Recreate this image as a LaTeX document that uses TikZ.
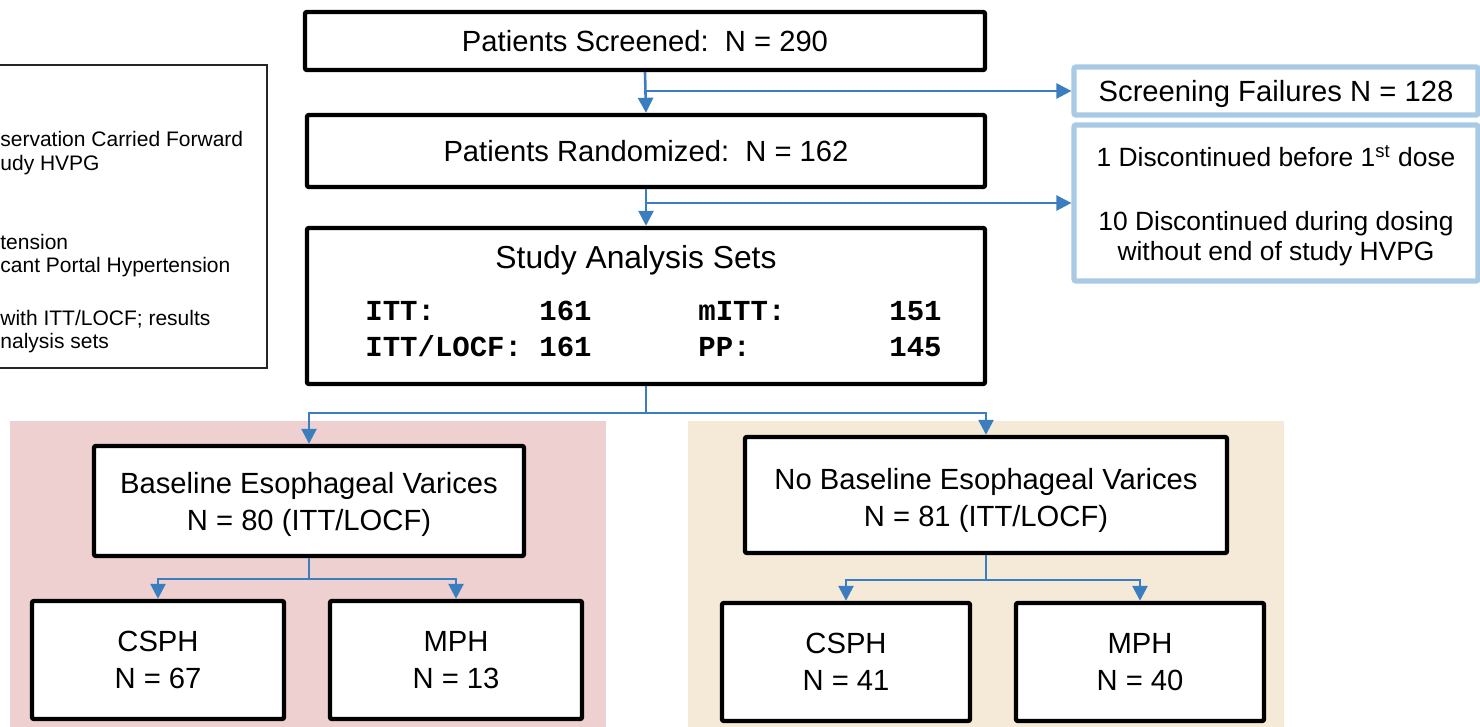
\documentclass[tikz,border=0pt]{standalone}
\usepackage{fontspec}
\setmainfont{Liberation Sans}
\newfontfamily\monobold{Liberation Mono}[BoldFont={* Bold}]
\usetikzlibrary{arrows.meta,positioning}
\definecolor{flowblue}{RGB}{59,126,192}
\definecolor{paleblue}{RGB}{168,202,228}
\definecolor{pinkbg}{RGB}{238,208,208}
\definecolor{tanbg}{RGB}{245,234,215}
\tikzset{
  blackbox/.style={draw=black, line width=2.2pt, fill=white, rounded corners=1pt,
    inner sep=0pt, align=center},
  bluebox/.style={draw=paleblue, line width=2.6pt, fill=white, rounded corners=1pt,
    inner sep=0pt, align=center},
  flow/.style={draw=flowblue, line width=1.3pt, -{Triangle[length=7.5pt,width=7.5pt]}},
  joint/.style={draw=flowblue, line width=1.3pt},
  legtext/.style={anchor=west, inner sep=0pt, font=\fontsize{10.5}{12}\selectfont},
  setlabel/.style={inner sep=0pt, font=\monobold\bfseries\fontsize{14.5}{17}\selectfont},
  bigtext/.style={font=\fontsize{14.6}{17.5}\selectfont},
  subtext/.style={font=\fontsize{14.6}{18.5}\selectfont},
}
\begin{document}
\begin{tikzpicture}[x=0.5pt,y=-0.5pt]
\useasboundingbox (0,0) rectangle (1480,727);
\clip (0,0) rectangle (1480,727);
\fill[white] (0,0) rectangle (1480,727);

% coloured panels behind the two subgroups
\fill[pinkbg] (10,421) rectangle (606,740);
\fill[tanbg] (688,421) rectangle (1284,740);

% legend box, running off the left edge
\draw[line width=0.8pt, draw=black!85] (-20,65) rectangle (267,368);
\node[legtext] (lg1) at (0,139) {servation Carried Forward};
\node[legtext] (lg2) at (0,165) {udy HVPG};
\node[legtext] (lg3) at (0,242) {tension};
\node[legtext] (lg4) at (0,267) {cant Portal Hypertension};
\node[legtext] (lg5) at (0,319) {with ITT/LOCF; results};
\node[legtext] (lg6) at (0,343) {nalysis sets};

% main flow
\node[blackbox, bigtext, minimum width=340pt, minimum height=29pt]
  (scr) at (645,41) {Patients Screened:\ \ N = 290};
\node[blackbox, bigtext, minimum width=339pt, minimum height=36pt]
  (rand) at (646,151) {Patients Randomized:\ \ N = 162};
\node[blackbox, minimum width=339pt, minimum height=78pt]
  (sas) at (646,306) {};
\node[inner sep=0pt, font=\fontsize{15.9}{19}\selectfont] (sastitle) at (636,260) {Study Analysis Sets};
\node[setlabel, anchor=base west] (l1) at (365,321) {ITT:};
\node[setlabel, anchor=base east] (n1) at (592,321) {161};
\node[setlabel, anchor=base west] (l2) at (365,357) {ITT/LOCF:};
\node[setlabel, anchor=base east] (n2) at (592,357) {161};
\node[setlabel, anchor=base west] (l3) at (698,321) {mITT:};
\node[setlabel, anchor=base east] (n3) at (942,321) {151};
\node[setlabel, anchor=base west] (l4) at (698,357) {PP:};
\node[setlabel, anchor=base east] (n4) at (942,357) {145};

% side boxes
\node[bluebox, bigtext, text depth=0pt, minimum width=202pt, minimum height=24pt]
  (fail) at (1276,91) {Screening Failures N = 128};
\node[bluebox, minimum width=202pt, minimum height=78pt, font=\fontsize{13.2}{15}\selectfont]
  (disc) at (1276,203) {\rule{0pt}{13pt}1 Discontinued before 1\textsuperscript{st} dose\\[17pt]
  10 Discontinued during dosing\\ without end of study HVPG};

% subgroup boxes
\node[blackbox, subtext, minimum width=215pt, minimum height=55pt]
  (bev) at (309,501) {\rule{0pt}{13.6pt}Baseline Esophageal Varices\\ N = 80 (ITT/LOCF)};
\node[blackbox, subtext, minimum width=241pt, minimum height=58pt]
  (nbev) at (986,495) {\rule{0pt}{16.5pt}No Baseline Esophageal Varices\\ N = 81 (ITT/LOCF)};
\node[blackbox, subtext, minimum width=126pt, minimum height=59pt]
  (csph1) at (158,660) {CSPH\\ N = 67};
\node[blackbox, subtext, minimum width=126pt, minimum height=59pt]
  (mph1) at (456,660) {MPH\\ N = 13};
\node[blackbox, subtext, minimum width=124pt, minimum height=59pt]
  (csph2) at (846,662) {CSPH\\ N = 41};
\node[blackbox, subtext, minimum width=124pt, minimum height=59pt]
  (mph2) at (1140,662) {MPH\\ N = 40};

% connectors
\draw[flow] (scr.south) -- (rand.north);
\draw[flow] (scr.south |- fail.west) -- (fail.west);
\draw[flow] (rand.south) -- (sas.north);
\draw[flow] (rand.south |- disc.west) -- (disc.west);

\path (sas.south) ++(0,27) coordinate (split);
\draw[joint] (sas.south) -- (split);
\draw[flow] (split) -| (bev.north);
\draw[flow] (split) -| (nbev.north);

\path (bev.south) ++(0,21) coordinate (lsplit);
\draw[joint] (bev.south) -- (lsplit);
\draw[flow] (lsplit) -| (csph1.north);
\draw[flow] (lsplit) -| (mph1.north);

\path (nbev.south) ++(0,25) coordinate (rsplit);
\draw[joint] (nbev.south) -- (rsplit);
\draw[flow] (rsplit) -| (csph2.north);
\draw[flow] (rsplit) -| (mph2.north);
\end{tikzpicture}
\end{document}
